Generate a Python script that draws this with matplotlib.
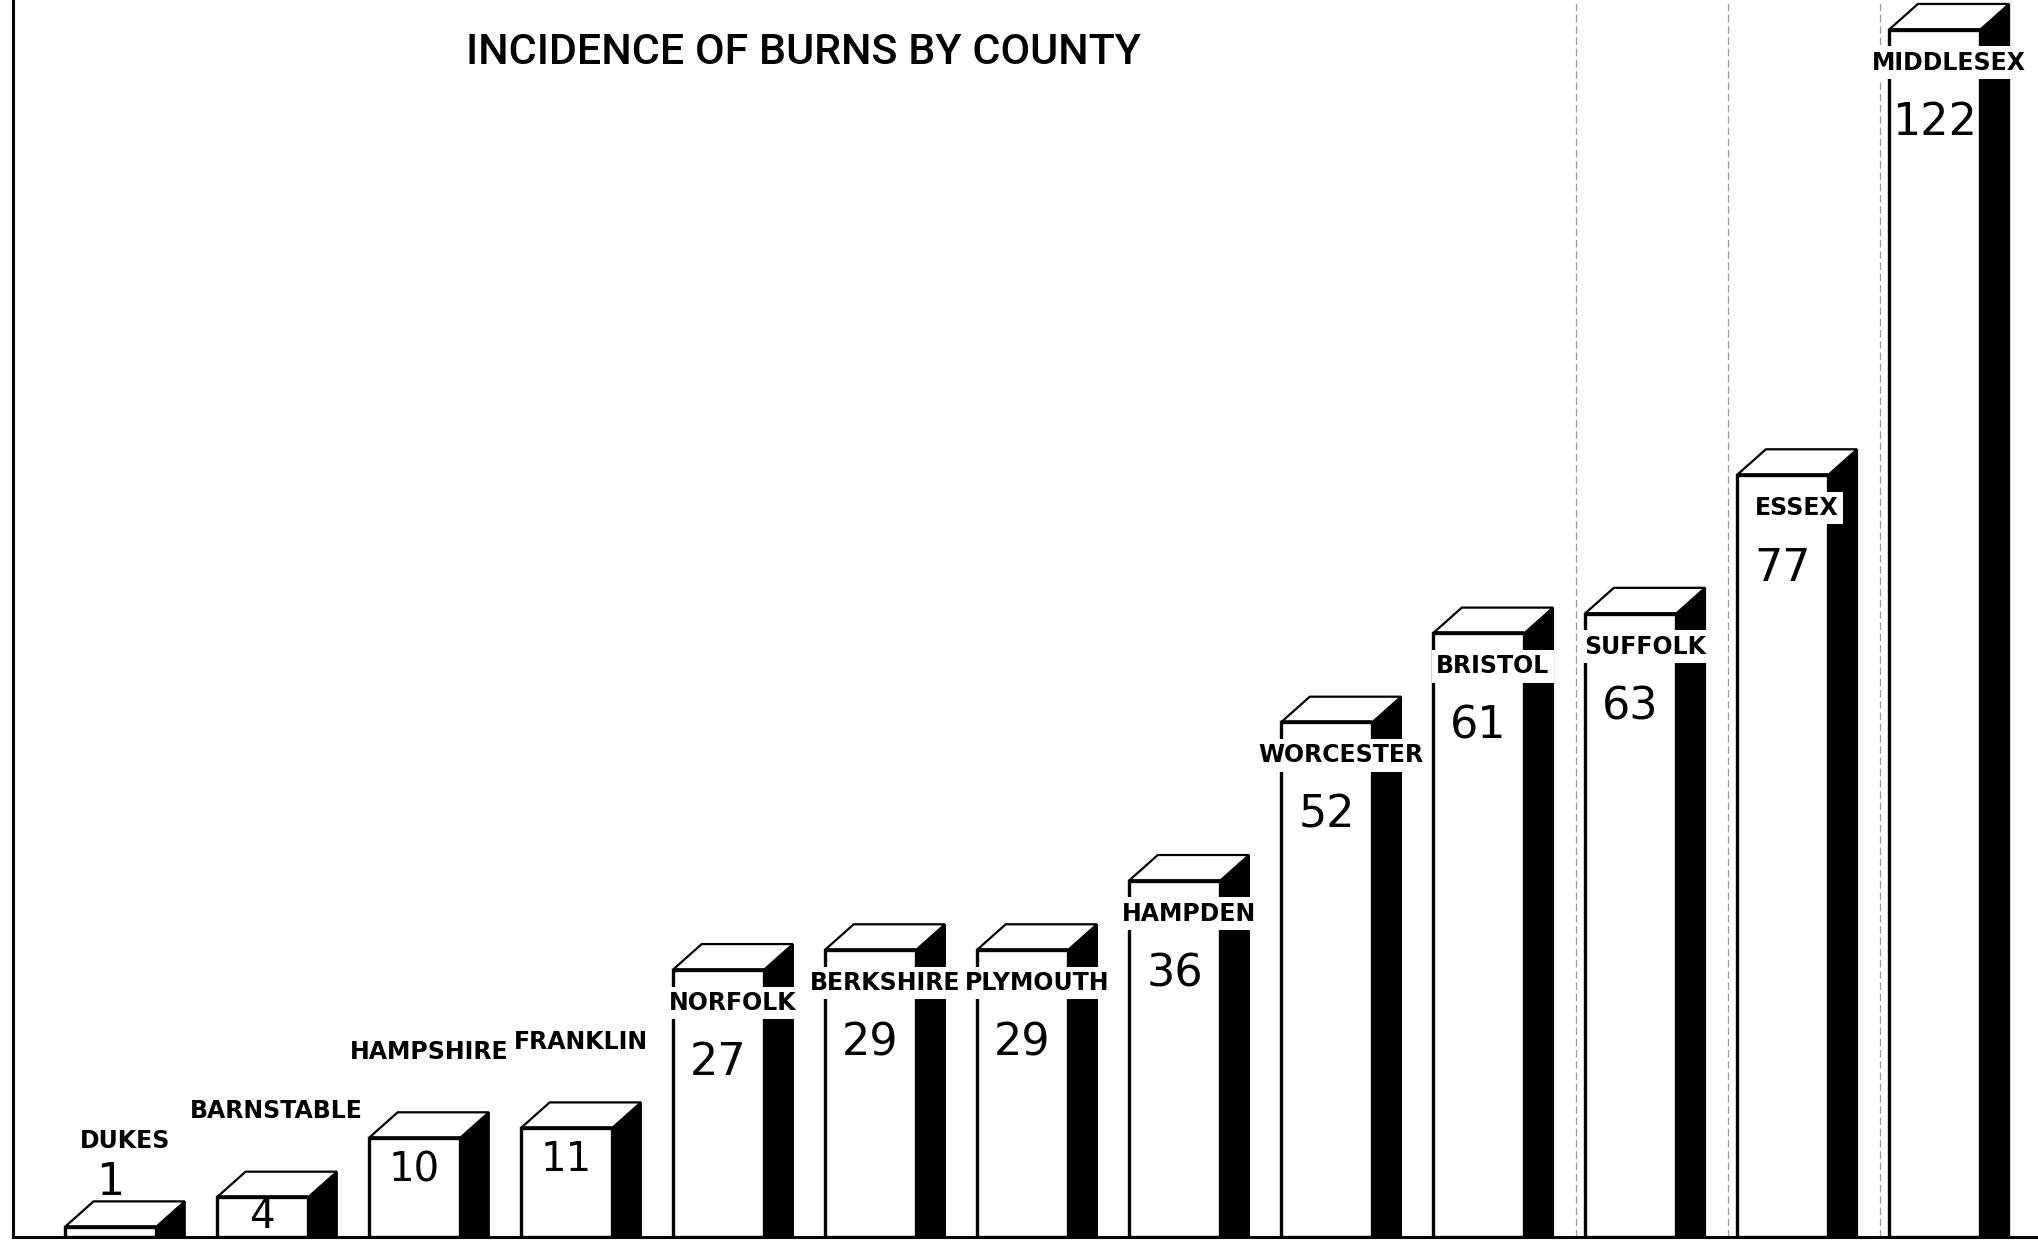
import matplotlib.pyplot as plt
from matplotlib.patches import Polygon

# data
counties = ['DUKES', 'BARNSTABLE', 'HAMPSHIRE', 'FRANKLIN', 'NORFOLK', 'BERKSHIRE',
            'PLYMOUTH', 'HAMPDEN', 'WORCESTER', 'BRISTOL', 'SUFFOLK', 'ESSEX', 'MIDDLESEX']
burns = [1, 4, 10, 11, 27, 29, 29, 36, 52, 61, 63, 77, 122]
title = 'INCIDENCE OF BURNS BY COUNTY'

W, H = 2038, 1243
half = 0.30      # half width of front face
dx, dy = 0.19, 2.6   # depth of the fake 3d box
ymax = 125

fig = plt.figure(figsize=(W / 100, H / 100), dpi=100)
fig.patch.set_facecolor('white')
ax = fig.add_axes([13 / W, 6 / H, 1 - 13 / W, 1 - 6 / H])
ax.set_xlim(-0.64, 12.68)
ax.set_ylim(0, ymax)
for s in ['top', 'right']:
    ax.spines[s].set_visible(False)
ax.spines['left'].set_linewidth(2.2)
ax.spines['bottom'].set_linewidth(2.2)
ax.set_xticks([])
ax.set_yticks([])
px_per_unit = (H - 6) / ymax

label_font = dict(fontsize=17, fontweight='bold', family='DejaVu Sans')
value_font = dict(fontsize=32, family='DejaVu Sans')

for i, (name, v) in enumerate(zip(counties, burns)):
    x0, x1 = i - half, i + half
    # faint paste-up guide lines beside the tallest bars
    if v > 62:
        ax.vlines(x0 - 0.06, 0, ymax, color='#9a9a9a', lw=0.9, ls=(0, (6, 3)), zorder=1)
    side = Polygon([(x1, 0), (x1, v), (x1 + dx, v + dy), (x1 + dx, 0)],
                   closed=True, fc='black', ec='black', lw=1.5, zorder=3)
    top = Polygon([(x0, v), (x0 + dx, v + dy), (x1 + dx, v + dy), (x1, v)],
                  closed=True, fc='white', ec='black', lw=1.6, zorder=3)
    ax.add_patch(side)
    ax.add_patch(top)
    ax.bar(i, v, width=2 * half, color='white', edgecolor='black', lw=2.4, zorder=4)
    # the top edge again so it sits above the front face outline
    ax.plot([x0, x1], [v, v], color='black', lw=2.6, zorder=5, solid_capstyle='butt')

    lx = i + dx / 2
    if v < 20:
        ax.annotate(name, (lx, v), xytext=(0, 86), textcoords='offset pixels',
                    ha='center', va='center', zorder=6, **label_font)
        if v < 3:
            ax.annotate(str(v), (i, v), xytext=(0, 45), textcoords='offset pixels',
                        ha='center', va='center', zorder=6, **value_font)
        else:
            off = -min(32, 0.5 * v * px_per_unit)
            ax.annotate(str(v), (i, v), xytext=(0, off), textcoords='offset pixels',
                        ha='center', va='center', zorder=6, fontsize=29,
                        family='DejaVu Sans')
    else:
        ax.annotate(name, (lx, v), xytext=(0, -33), textcoords='offset pixels',
                    ha='center', va='center', zorder=6,
                    bbox=dict(fc='white', ec='none', pad=3), **label_font)
        ax.annotate(str(v), (i, v), xytext=(0, -93), textcoords='offset pixels',
                    ha='center', va='center', zorder=6, **value_font)

fig.text(803 / W, 1 - 52 / H, title, ha='center', va='center', fontsize=31,
         fontweight='medium', family=['Roboto', 'DejaVu Sans'])

fig.savefig('out.png', dpi=100, facecolor='white')
